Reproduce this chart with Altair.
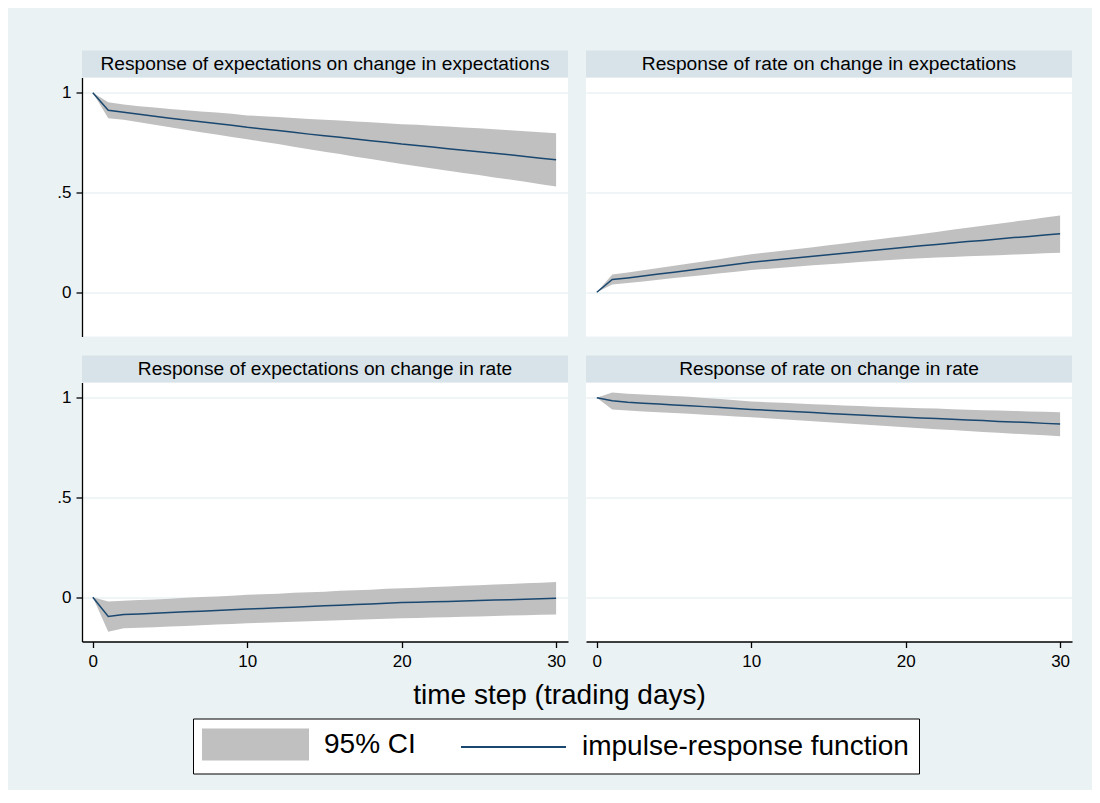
import altair as alt
import pandas as pd

# ---------------- data ----------------
steps = list(range(31))

panel_titles = [
    "Response of expectations on change in expectations",
    "Response of rate on change in expectations",
    "Response of expectations on change in rate",
    "Response of rate on change in rate",
]

# expectations <- expectations
irf_ee = [1.000, 0.913, 0.903, 0.893, 0.883, 0.873, 0.864, 0.855, 0.846, 0.837, 0.827,
          0.819, 0.811, 0.802, 0.793, 0.785, 0.777, 0.768, 0.760, 0.752, 0.743,
          0.736, 0.728, 0.720, 0.712, 0.705, 0.697, 0.689, 0.681, 0.672, 0.664]
hi_ee = [1.000, 0.953, 0.941, 0.933, 0.926, 0.919, 0.913, 0.907, 0.901, 0.895, 0.887,
         0.883, 0.879, 0.874, 0.869, 0.865, 0.861, 0.856, 0.852, 0.848, 0.843,
         0.840, 0.835, 0.831, 0.826, 0.822, 0.818, 0.813, 0.808, 0.803, 0.798]
lo_ee = [1.000, 0.873, 0.865, 0.853, 0.840, 0.827, 0.815, 0.803, 0.791, 0.779, 0.767,
         0.755, 0.743, 0.730, 0.717, 0.705, 0.693, 0.680, 0.668, 0.656, 0.643,
         0.632, 0.621, 0.609, 0.598, 0.588, 0.576, 0.565, 0.554, 0.541, 0.530]

# rate <- expectations
irf_re = [0.000, 0.064, 0.072, 0.081, 0.091, 0.100, 0.110, 0.120, 0.130, 0.140, 0.150,
          0.158, 0.165, 0.173, 0.180, 0.188, 0.196, 0.203, 0.211, 0.218, 0.226,
          0.233, 0.240, 0.247, 0.254, 0.260, 0.267, 0.274, 0.280, 0.287, 0.293]
hi_re = [0.000, 0.089, 0.099, 0.110, 0.121, 0.133, 0.144, 0.156, 0.167, 0.179, 0.190,
         0.199, 0.208, 0.217, 0.226, 0.236, 0.245, 0.254, 0.263, 0.273, 0.282,
         0.292, 0.302, 0.313, 0.323, 0.333, 0.344, 0.354, 0.364, 0.375, 0.385]
lo_re = [0.000, 0.039, 0.046, 0.054, 0.063, 0.071, 0.079, 0.087, 0.095, 0.103, 0.111,
         0.117, 0.123, 0.129, 0.135, 0.140, 0.146, 0.152, 0.157, 0.162, 0.167,
         0.170, 0.174, 0.177, 0.180, 0.183, 0.186, 0.189, 0.192, 0.195, 0.198]

# expectations <- rate
irf_er = [0.000, -0.097, -0.087, -0.084, -0.080, -0.077, -0.073, -0.070, -0.066, -0.063, -0.059,
          -0.056, -0.053, -0.050, -0.046, -0.043, -0.040, -0.037, -0.034, -0.030, -0.027,
          -0.025, -0.023, -0.021, -0.019, -0.016, -0.014, -0.012, -0.010, -0.007, -0.005]
hi_er = [0.000, -0.022, -0.018, -0.014, -0.011, -0.007, -0.003, 0.001, 0.004, 0.008, 0.012,
         0.015, 0.018, 0.022, 0.025, 0.028, 0.032, 0.035, 0.038, 0.042, 0.045,
         0.048, 0.051, 0.054, 0.057, 0.060, 0.064, 0.067, 0.070, 0.073, 0.076]
lo_er = [0.000, -0.173, -0.156, -0.153, -0.150, -0.147, -0.144, -0.140, -0.137, -0.134, -0.131,
         -0.128, -0.126, -0.123, -0.121, -0.118, -0.116, -0.113, -0.111, -0.108, -0.106,
         -0.104, -0.102, -0.100, -0.098, -0.096, -0.094, -0.092, -0.090, -0.088, -0.086]

# rate <- rate
irf_rr = [1.000, 0.986, 0.978, 0.973, 0.969, 0.964, 0.960, 0.956, 0.952, 0.947, 0.942,
          0.938, 0.934, 0.930, 0.926, 0.922, 0.918, 0.914, 0.910, 0.906, 0.903,
          0.899, 0.896, 0.893, 0.889, 0.886, 0.882, 0.879, 0.876, 0.872, 0.869]
hi_rr = [1.000, 1.027, 1.021, 1.017, 1.013, 1.009, 1.005, 0.999, 0.994, 0.988, 0.982,
         0.978, 0.975, 0.972, 0.968, 0.965, 0.962, 0.959, 0.956, 0.953, 0.950,
         0.948, 0.946, 0.943, 0.940, 0.938, 0.936, 0.934, 0.932, 0.930, 0.928]
lo_rr = [1.000, 0.941, 0.936, 0.932, 0.928, 0.924, 0.920, 0.915, 0.911, 0.907, 0.903,
         0.898, 0.893, 0.888, 0.883, 0.878, 0.873, 0.868, 0.863, 0.858, 0.853,
         0.848, 0.843, 0.839, 0.834, 0.829, 0.825, 0.820, 0.816, 0.812, 0.808]

series_names = ["95% CI", "impulse-response function"]
x_ticks = [0, 10, 20, 30]
y_ticks = [0, 0.5, 1]
x_title = "time step (trading days)"

# ---------------- style ----------------
FONT = "Liberation Sans, Arial, sans-serif"
BG = "#EAF2F3"
HEAD = "#D8E3E9"
CI_COL = "#C0C0C0"
LINE_COL = "#1A476F"
W, H = 486, 259
HEAD_H = 27
XDOM = [-0.7, 30.77]
YDOM = [-0.222, 1.077]

color_scale = alt.Scale(domain=series_names, range=[CI_COL, LINE_COL])

legend = alt.Legend(
    orient="none", legendX=111, legendY=641, direction="horizontal", title=None,
    labelFont=FONT, labelFontSize=28, labelColor="black", labelOffset=52.5,
    labelLimit=600,
    symbolType={"expr": "datum.label == '95% CI' ? 'M-3.5,-1H3.5V1H-3.5Z' : 'M-3.5,0H3.5'"},
    symbolSize=900, symbolStrokeWidth=2, symbolOffset=36.5,
    columnPadding=41, padding=10, strokeColor="black", fillColor="white",
    cornerRadius=0,
)


def y_axis(show):
    if show:
        return alt.Axis(values=y_ticks, grid=True, gridColor=BG, gridWidth=1.5,
                        domain=True, domainColor="black", domainWidth=1.3,
                        ticks=True, tickSize=6, tickColor="black", tickWidth=1.3,
                        labels=True, labelFont=FONT, labelFontSize=17, labelColor="black",
                        labelPadding=5,
                        labelExpr="replace(format(datum.value, '~g'), '0.', '.')",
                        title=None)
    return alt.Axis(values=y_ticks, grid=True, gridColor=BG, gridWidth=1.5,
                    domain=False, ticks=False, labels=False, title=None)


def x_axis(show, with_title):
    if not show:
        return None
    kw = dict(values=x_ticks, grid=False, domain=True, domainColor="black", domainWidth=1.3,
              ticks=True, tickSize=6, tickColor="black", tickWidth=1.3,
              labelFont=FONT, labelFontSize=17, labelColor="black", labelPadding=6)
    if with_title:
        kw.update(title=x_title, titleFont=FONT, titleFontSize=28, titleFontWeight="normal",
                  titleColor="black", titleX=477, titleY=62, titleAlign="center",
                  titleBaseline="alphabetic")
    else:
        kw.update(title=None)
    return alt.Axis(**kw)


def panel(title, irf, lo, hi, show_x, show_y, with_title):
    df = pd.DataFrame({"step": steps, "irf": irf, "lo": lo, "hi": hi,
                       "ci": series_names[0], "fn": series_names[1]})
    xs = alt.Scale(domain=XDOM, nice=False, zero=False)
    ys = alt.Scale(domain=YDOM, nice=False, zero=False)
    xa = x_axis(show_x, with_title)
    ya = y_axis(show_y)
    band = alt.Chart(df).mark_area(opacity=1).encode(
        x=alt.X("step:Q", scale=xs, axis=xa),
        y=alt.Y("lo:Q", scale=ys, axis=ya),
        y2="hi:Q",
        color=alt.Color("ci:N", scale=color_scale, legend=legend),
    )
    line = alt.Chart(df).mark_line(strokeWidth=1.5).encode(
        x=alt.X("step:Q", scale=xs, axis=xa),
        y=alt.Y("irf:Q", scale=ys, axis=ya),
        color=alt.Color("fn:N", scale=color_scale, legend=legend),
    )
    hdf = pd.DataFrame({"title": [title]})
    head = alt.Chart(hdf).mark_rect(color=HEAD).encode(
        x=alt.value(0), x2=alt.value(W), y=alt.value(-HEAD_H), y2=alt.value(0)
    )
    head_txt = alt.Chart(hdf).mark_text(font=FONT, fontSize=19.2, color="black",
                                        baseline="middle", align="center").encode(
        text="title:N", x=alt.value(W / 2), y=alt.value(-HEAD_H / 2)
    )
    return alt.layer(band, line, head, head_txt).properties(width=W, height=H)


p1 = panel(panel_titles[0], irf_ee, lo_ee, hi_ee, False, True, False)
p2 = panel(panel_titles[1], irf_re, lo_re, hi_re, False, False, False)
p3 = panel(panel_titles[2], irf_er, lo_er, hi_er, True, True, True)
p4 = panel(panel_titles[3], irf_rr, lo_rr, hi_rr, True, False, False)

chart = alt.concat(
    p1, p2, p3, p4, columns=2, spacing={"row": 46, "column": 18}, bounds="flush"
).properties(
    background=BG,
    padding={"left": 48, "top": 42.5, "right": 20, "bottom": 15},
).configure_view(fill="white", strokeWidth=0)

chart.save("out.html", embed_options={"renderer": "svg", "actions": False})
